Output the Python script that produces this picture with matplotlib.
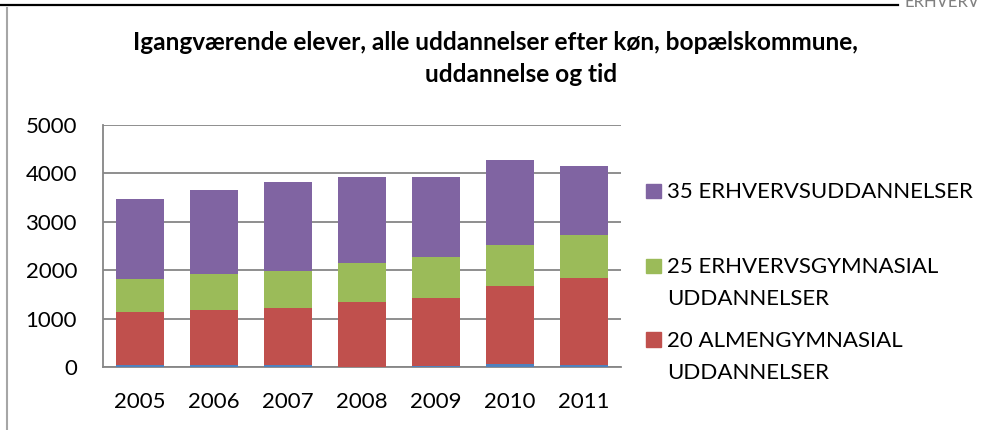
import matplotlib.pyplot as plt
import numpy as np
from matplotlib.patches import Rectangle
from matplotlib.lines import Line2D

plt.rcParams['font.family'] = ['Lato', 'DejaVu Sans']

years = ['2005', '2006', '2007', '2008', '2009', '2010', '2011']

# stacked series, bottom to top
grundskole = [48, 48, 41, 14, 28, 62, 48]
almengym = [1101, 1142, 1183, 1341, 1409, 1609, 1802]
erhvervsgym = [667, 736, 757, 798, 833, 853, 880]
erhvervsudd = [1650, 1740, 1850, 1781, 1657, 1761, 1424]

series = [grundskole, almengym, erhvervsgym, erhvervsudd]
colors = ['#4F81BD', '#C0504D', '#9BBB59', '#8064A2']

# legend as shown (top to bottom)
legend_labels = ['35 ERHVERVSUDDANNELSER',
                 '25 ERHVERVSGYMNASIAL\nUDDANNELSER',
                 '20 ALMENGYMNASIAL\nUDDANNELSER']
legend_colors = ['#8064A2', '#9BBB59', '#C0504D']

W, H = 982, 430
fig = plt.figure(figsize=(W / 100, H / 100), dpi=100)
ax = fig.add_axes([102.7 / W, 1 - 367.3 / H, 518 / W, 242.3 / H])

x = np.arange(len(years))
bottom = np.zeros(len(years))
for vals, col in zip(series, colors):
    ax.bar(x, vals, width=0.65, bottom=bottom, color=col, linewidth=0, zorder=3)
    bottom += np.array(vals)

ax.set_xlim(-0.5, len(years) - 0.5)
ax.set_ylim(0, 5000)
ax.set_yticks(range(0, 5001, 1000))
ax.set_xticks(x)
ax.set_xticklabels(years)
ax.yaxis.grid(True, color='#868686', linewidth=1.3, zorder=0)
ax.tick_params(axis='both', length=0, labelsize=16, colors='black')
ax.tick_params(axis='y', pad=18.5)
ax.tick_params(axis='x', pad=18)
for s in ['top', 'right']:
    ax.spines[s].set_visible(False)
for s in ['left', 'bottom']:
    ax.spines[s].set_color('#868686')
    ax.spines[s].set_linewidth(1.3)

# title (two lines, placed as in the source)
fig.text(495.5 / W, 1 - 50 / H, 'Igangværende elever, alle uddannelser efter køn, bopælskommune,',
         ha='center', va='baseline', fontsize=17.6, fontweight='bold')
fig.text(521 / W, 1 - 82 / H, 'uddannelse og tid',
         ha='center', va='baseline', fontsize=17.6, fontweight='bold')

# legend
sq = 14.7
first_base = [198.3, 273.3, 347.3]
centers = [191, 266, 339.5]
for lab, col, base, cy in zip(legend_labels, legend_colors, first_base, centers):
    fig.patches.append(Rectangle((646 / W, 1 - (cy + sq / 2) / H), sq / W, sq / H,
                                 transform=fig.transFigure, color=col, figure=fig))
    for i, line in enumerate(lab.split('\n')):
        fig.text(667 / W, 1 - (base + 31.5 * i) / H, line, ha='left', va='baseline', fontsize=16)

# page frame bits
fig.add_artist(Line2D([0, 898 / W], [1 - 5 / H, 1 - 5 / H], color='black', linewidth=1.6,
                      transform=fig.transFigure))
fig.add_artist(Line2D([6.5 / W, 6.5 / W], [0, 1 - 8 / H], color='#a6a6a6', linewidth=1.5,
                      transform=fig.transFigure))
fig.text(905 / W, 1 - 7 / H, 'ERHVERV', ha='left', va='baseline', fontsize=12, color='#808080')

fig.savefig('out.png', dpi=100)
